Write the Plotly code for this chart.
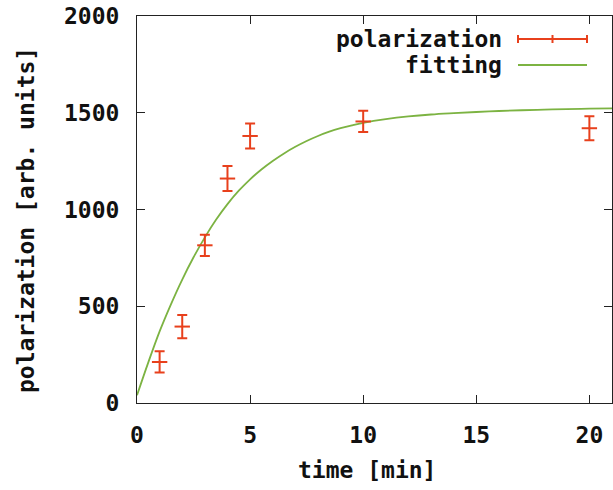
import plotly.graph_objects as go

# measured polarization vs. time
time_min = [1, 2, 3, 4, 5, 10, 20]
polarization = [212, 395, 815, 1160, 1380, 1455, 1420]
pol_error = [55, 60, 55, 65, 65, 55, 62]

# fitted curve, sampled
fit_time = [0, 0.5, 1, 1.5, 2, 2.5, 3, 3.5, 4, 4.5, 5, 5.5, 6, 6.5, 7, 7.5, 8, 8.5, 9, 9.5, 10,
            11, 12, 13, 14, 15, 16, 17, 18, 19, 20, 21]
fit_value = [40, 210, 370, 510, 638, 753, 856, 948, 1028, 1097, 1156, 1207, 1251, 1290, 1324,
             1354, 1380, 1402, 1420, 1435, 1448, 1467, 1481, 1491, 1498, 1504, 1509, 1513,
             1516, 1519, 1521, 1523]

x_ticks = [0, 5, 10, 15, 20]
y_ticks = [0, 500, 1000, 1500, 2000]

RED = "#e8401c"
GREEN = "#7cb342"
FONT = dict(family="DejaVu Sans Mono", size=23, color="#111111")

fig = go.Figure()

fig.add_trace(go.Scatter(
    x=fit_time, y=fit_value, mode="lines", line_shape="spline",
    line=dict(color=GREEN, width=1.8), name="fitting", showlegend=False,
))

fig.add_trace(go.Scatter(
    x=time_min, y=polarization, mode="markers", name="polarization",
    marker=dict(symbol="line-ew", size=11, line=dict(color=RED, width=2)),
    error_y=dict(type="data", array=pol_error, color=RED, thickness=2, width=5),
    showlegend=False,
))

# left, bottom margins and plot box in pixels
L, T, B, R = 137, 16, 87, 1
W, H = 613, 490
pw, ph = W - L - R, H - T - B


def px_x(p):
    return (p - L) / pw


def px_y(p):
    return (H - B - p) / ph


# key: text on the left, sample on the right
key_rows = [("polarization", 39), ("fitting", 65)]
for label, yy in key_rows:
    fig.add_annotation(
        text="<b>%s</b>" % label, xref="paper", yref="paper",
        x=px_x(504), y=px_y(yy), xanchor="right", yanchor="middle",
        showarrow=False, font=FONT,
    )

x0, x1 = px_x(518), px_x(587)
ya = px_y(39)
fig.add_shape(type="line", xref="paper", yref="paper", x0=x0, x1=x1, y0=ya, y1=ya,
              line=dict(color=RED, width=2))
tick_h = 4 / ph
for xx in (x0, (x0 + x1) / 2, x1):
    fig.add_shape(type="line", xref="paper", yref="paper", x0=xx, x1=xx,
                  y0=ya - tick_h, y1=ya + tick_h, line=dict(color=RED, width=2))
yb = px_y(65)
fig.add_shape(type="line", xref="paper", yref="paper", x0=x0, x1=x1, y0=yb, y1=yb,
              line=dict(color=GREEN, width=2))

# axis titles
fig.add_annotation(
    text="<b>time [min]</b>", xref="paper", yref="paper",
    x=px_x(367), y=px_y(470), xanchor="center", yanchor="middle",
    showarrow=False, font=FONT,
)
fig.add_annotation(
    text="<b>polarization [arb. units]</b>", xref="paper", yref="paper",
    x=px_x(26), y=px_y(220), xanchor="center", yanchor="middle",
    textangle=-90, showarrow=False, font=FONT,
)

axis_common = dict(
    showline=True, linecolor="#222222", linewidth=1, mirror="ticks",
    ticks="inside", ticklen=8, tickwidth=1, tickcolor="#222222",
    showgrid=False, zeroline=False, tickfont=FONT,
)

fig.update_layout(
    width=W, height=H,
    margin=dict(l=L, r=R, t=T, b=B),
    paper_bgcolor="white", plot_bgcolor="white",
    xaxis=dict(range=[0, 21], tickvals=x_ticks,
               ticktext=["<b>%d</b>" % v for v in x_ticks],
               ticklabelstandoff=11, **axis_common),
    yaxis=dict(range=[0, 2000], tickvals=y_ticks,
               ticktext=["<b>%d</b>" % v for v in y_ticks],
               ticklabelstandoff=12, **axis_common),
)

fig.write_html("out.html")
